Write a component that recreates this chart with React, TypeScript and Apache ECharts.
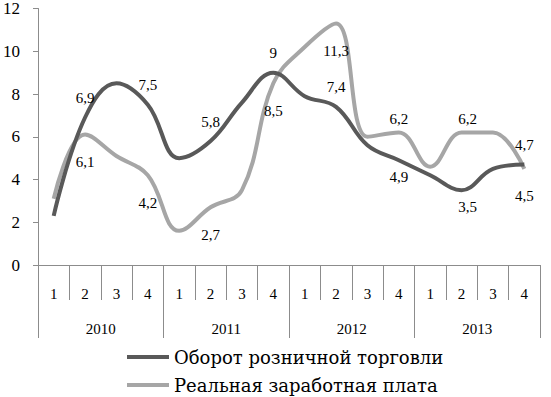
import React, { useEffect, useRef } from "react";
import * as echarts from "echarts";

const quarters = ["1", "2", "3", "4", "1", "2", "3", "4", "1", "2", "3", "4", "1", "2", "3", "4"];
const years = ["2010", "2011", "2012", "2013"];
const retail = [2.3, 6.9, 8.5, 7.5, 5.0, 5.8, 7.6, 9.0, 7.9, 7.4, 5.6, 4.9, 4.2, 3.5, 4.5, 4.7];
const wage = [3.1, 6.1, 5.1, 4.2, 1.6, 2.7, 3.5, 8.5, 10.2, 11.3, 6.0, 6.2, 4.6, 6.2, 6.2, 4.5];
const retailName = "Оборот розничной торговли";
const wageName = "Реальная заработная плата";

// which points carry a data label, and where
const labeled = [1, 3, 5, 7, 9, 11, 13, 15];
const retailBelow = [11, 13];
const wageAbove = [11, 13];

const FONT = "Liberation Serif";
const LEGEND_FONT = "DejaVu Serif";
const DARK = "#595959";
const LIGHT = "#a6a6a6";
const AXIS = "#8c8c8c";

const fmt = (v: number) => String(v).replace(".", ",");

function buildData(values: number[], isRetail: boolean) {
  return values.map((v, i) => {
    if (!labeled.includes(i)) return { value: v, label: { show: false } };
    const above = isRetail ? !retailBelow.includes(i) : wageAbove.includes(i);
    const distance = isRetail ? (above ? 12 : 9) : above ? 6 : 20;
    const offset = i === 13 ? [6, 0] : [0, 0];
    return {
      value: v,
      label: {
        show: true,
        position: above ? "top" : "bottom",
        distance,
        offset,
        formatter: fmt(v),
        color: "#000",
        fontFamily: FONT,
        fontSize: 15,
      },
    };
  });
}

const legendBase = {
  orient: "horizontal",
  left: 122,
  itemWidth: 42,
  itemHeight: 4,
  icon: "rect",
  textStyle: { fontFamily: LEGEND_FONT, fontSize: 18, color: "#000" },
};

export default function App() {
  const ref = useRef<HTMLDivElement>(null);
  useEffect(() => {
    const chart = echarts.init(ref.current!, null, { renderer: "svg" });
    chart.setOption({
      animation: false,
      textStyle: { fontFamily: FONT },
      grid: { left: 38, right: 11, top: 8, bottom: 132, containLabel: false },
      legend: [
        { ...legendBase, top: 343, data: [{ name: retailName, itemStyle: { color: DARK } }] },
        { ...legendBase, top: 371, data: [{ name: wageName, itemStyle: { color: LIGHT } }] },
      ],
      xAxis: [
        {
          type: "category",
          data: quarters,
          position: "bottom",
          axisLine: { show: true, lineStyle: { color: AXIS, width: 1 } },
          axisTick: { show: true, interval: 0, length: 35, lineStyle: { color: AXIS } },
          axisLabel: { interval: 0, margin: 21, color: "#000", fontFamily: FONT, fontSize: 15 },
          splitLine: { show: false },
        },
        {
          type: "category",
          data: years,
          position: "bottom",
          axisLine: { show: false },
          axisTick: { show: true, interval: 0, length: 73, lineStyle: { color: AXIS } },
          axisLabel: { interval: 0, margin: 56, color: "#000", fontFamily: FONT, fontSize: 15 },
          splitLine: { show: false },
        },
      ],
      yAxis: {
        type: "value",
        min: 0,
        max: 12,
        interval: 2,
        axisLine: { show: true, lineStyle: { color: AXIS } },
        axisTick: { show: true, length: 5, lineStyle: { color: AXIS } },
        axisLabel: { margin: 18, color: "#000", fontFamily: FONT, fontSize: 17 },
        splitLine: { show: false },
      },
      series: [
        {
          name: retailName,
          type: "line",
          xAxisIndex: 0,
          smooth: 0.4,
          data: buildData(retail, true),
          color: DARK,
          lineStyle: { color: DARK, width: 4 },
          symbol: "circle",
          symbolSize: 0.01,
          z: 3,
        },
        {
          name: wageName,
          type: "line",
          xAxisIndex: 0,
          smooth: 0.4,
          data: buildData(wage, false),
          color: LIGHT,
          lineStyle: { color: LIGHT, width: 4 },
          symbol: "circle",
          symbolSize: 0.01,
          z: 2,
        },
      ],
    });
    return () => chart.dispose();
  }, []);
  return (
    <div
      ref={ref}
      style={{ position: "fixed", left: 0, top: 0, width: 551, height: 397, background: "#fff" }}
    />
  );
}
